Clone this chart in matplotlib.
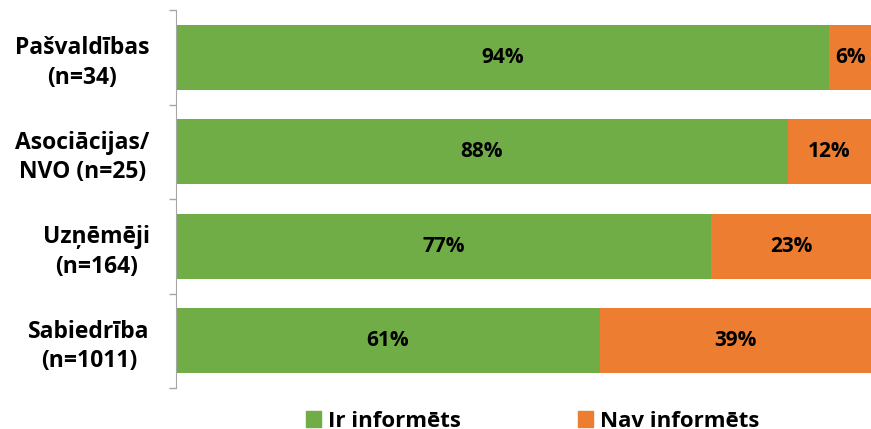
import matplotlib
matplotlib.use("Agg")
import matplotlib.pyplot as plt
from matplotlib.patches import Patch

plt.rcParams["font.family"] = ["Open Sans", "DejaVu Sans"]
plt.rcParams["font.weight"] = "bold"

# data
categories = ["Pašvaldības\n(n=34)", "Asociācijas/\nNVO (n=25)", "Uzņēmēji\n(n=164)", "Sabiedrība\n(n=1011)"]
informed = [94, 88, 77, 61]
not_informed = [6, 12, 23, 39]
series_names = ["Ir informēts", "Nav informēts"]
colors = ["#70AD47", "#ED7D31"]

fig = plt.figure(figsize=(8.71, 4.29), dpi=100)
ax = fig.add_axes([176 / 871, 1 - 388 / 429, 1 - 176 / 871, (388 - 10) / 429])

pos = list(range(len(categories)))
ax.barh(pos, informed, height=0.69, color=colors[0], edgecolor="none")
ax.barh(pos, not_informed, left=informed, height=0.69, color=colors[1], edgecolor="none")

for i, (a, b) in enumerate(zip(informed, not_informed)):
    ax.text(a / 2, i, f"{a}%", ha="center", va="center", fontsize=15, fontweight="bold")
    ax.text(a + b / 2, i, f"{b}%", ha="center", va="center", fontsize=15, fontweight="bold")

ax.set_xlim(0, 100)
ax.set_ylim(len(categories) - 0.5, -0.5)
ax.set_xticks([])
ax.set_yticks([p - 0.5 for p in pos] + [len(categories) - 0.5])
ax.set_yticklabels([])
ax.set_yticks(pos, minor=True)
ax.set_yticklabels(categories, minor=True, fontsize=16.5, fontweight="bold", multialignment="center",
                   linespacing=1.3)
ax.tick_params(axis="y", which="major", length=5, color="#A6A6A6", width=1)
ax.tick_params(axis="y", which="minor", length=0, pad=19)
for s in ["top", "right", "bottom"]:
    ax.spines[s].set_visible(False)
ax.spines["left"].set_color("#A6A6A6")

handles = [Patch(color=c, label=n) for c, n in zip(colors, series_names)]
fig.legend(handles=handles, loc="center", bbox_to_anchor=(0.6115, 0.018), ncol=2, frameon=False,
           fontsize=16, handlelength=0.68, handleheight=0.68, handletextpad=0.3, columnspacing=5.3)

fig.savefig("out.png", dpi=100)
